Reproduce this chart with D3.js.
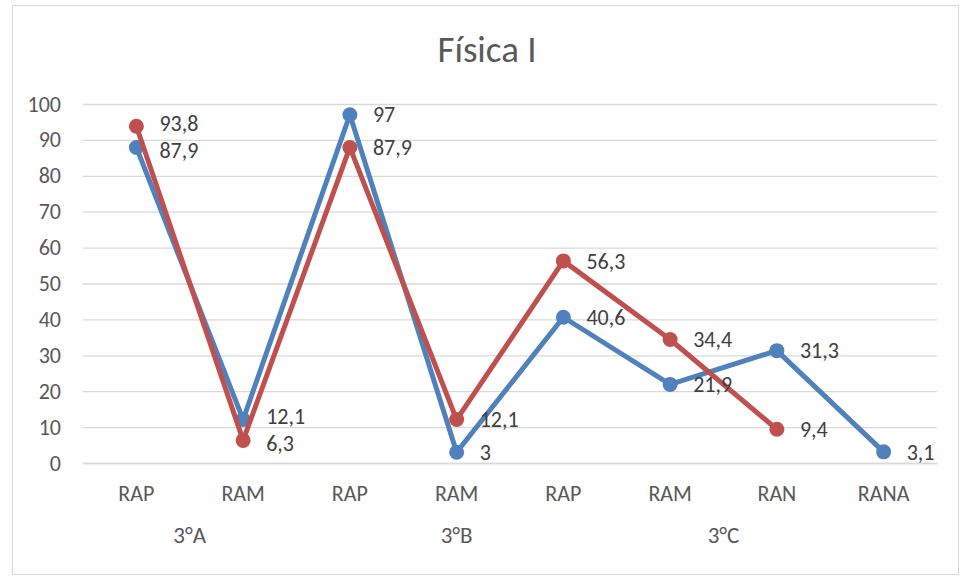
<!DOCTYPE html>
<html><head><meta charset="utf-8">
<script src="https://cdn.jsdelivr.net/npm/d3@7"></script>
<style>body{margin:0;background:#fff}svg{display:block}text{font-weight:300}</style>
</head><body>
<script>
const categories = ["RAP","RAM","RAP","RAM","RAP","RAM","RAN","RANA"];
const groups = [{label:"3°A", from:0, to:1},{label:"3°B", from:2, to:4},{label:"3°C", from:5, to:6}];
const seriesBlue = [87.9,12.1,97,3,40.6,21.9,31.3,3.1];
const seriesRed = [93.8,6.3,87.9,12.1,56.3,34.4,9.4,null];
const yTicks = [0,10,20,30,40,50,60,70,80,90,100];
const title = "Física I";

const W=960,H=577;
const font = "Carlito, Calibri, Lato, 'Open Sans', sans-serif";
const svg = d3.select("body").append("svg").attr("width",W).attr("height",H);
svg.append("rect").attr("x",12.5).attr("y",5.5).attr("width",W-14).attr("height",H-8)
  .attr("fill","#fff").attr("stroke","#d9d9d9");

const x = d3.scaleBand().domain(d3.range(categories.length)).range([83,937]);
const y = d3.scaleLinear().domain([0,100]).range([463,104]);

svg.append("text").attr("x",487).attr("y",62).attr("text-anchor","middle")
  .attr("font-family",font).attr("font-size",37).attr("fill","#595959").text(title);

const gy = svg.append("g").attr("transform","translate(83,0)")
  .call(d3.axisLeft(y).tickValues(yTicks).tickSize(-(937-83)).tickFormat(d3.format("d")));
gy.select(".domain").remove();
gy.selectAll(".tick line").attr("stroke","#d9d9d9").attr("stroke-width",1.3);
gy.selectAll(".tick text").attr("x",-22).attr("font-family",font).attr("font-size",22).attr("fill","#595959");

const gx = svg.append("g").attr("transform","translate(0,463)")
  .call(d3.axisBottom(x).tickSize(0).tickFormat(i=>categories[i]));
gx.select(".domain").attr("stroke","#d9d9d9").attr("stroke-width",1.3);
gx.selectAll(".tick text").attr("y",38).attr("dy",0).attr("font-family",font).attr("font-size",22).attr("fill","#595959");

svg.append("g").selectAll("text").data(groups).join("text")
  .attr("x",g=>(x(g.from)+x(g.to)+x.bandwidth())/2)
  .attr("y",543).attr("text-anchor","middle")
  .attr("font-family",font).attr("font-size",23).attr("fill","#595959").text(g=>g.label);

const cx = i=>x(i)+x.bandwidth()/2;
const fmt = v=>String(v).replace(".",",");
function drawSeries(vals,color){
  const pts = vals.map((v,i)=>({v,i})).filter(d=>d.v!=null);
  svg.append("path").datum(pts)
    .attr("d",d3.line().x(d=>cx(d.i)).y(d=>y(d.v)))
    .attr("fill","none").attr("stroke",color).attr("stroke-width",5).attr("stroke-linejoin","round").attr("stroke-linecap","round");
  svg.append("g").selectAll("circle").data(pts).join("circle")
    .attr("cx",d=>cx(d.i)).attr("cy",d=>y(d.v)).attr("r",7.5).attr("fill",color);
  return pts;
}
const pb = drawSeries(seriesBlue,"#4f81bd");
const pr = drawSeries(seriesRed,"#c0504d");
const labels = svg.append("g");
function drawLabels(pts, other){
  labels.selectAll(null).data(pts).join("text")
    .attr("x",d=>cx(d.i)+23)
    .attr("y",d=>{
      const o = other[d.i];
      let yy = y(d.v);
      if (o!=null && Math.abs(y(o)-y(d.v))<26) yy += (d.v>o ? -3 : 3);
      return yy;
    })
    .attr("dy","0.35em")
    .attr("font-family",font).attr("font-size",22).attr("fill","#404040").text(d=>fmt(d.v));
}
drawLabels(pb, seriesRed); drawLabels(pr, seriesBlue);
</script>
</body></html>
